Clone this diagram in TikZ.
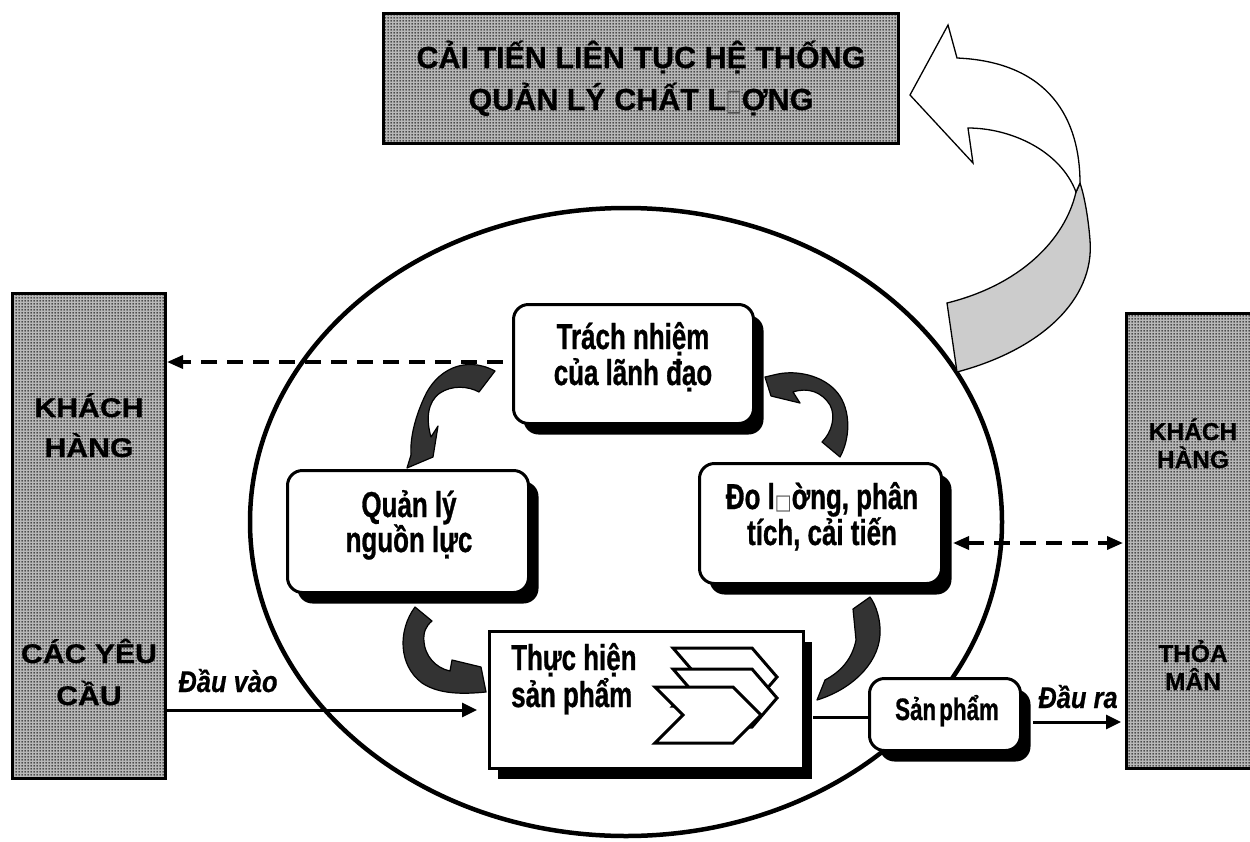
\documentclass[tikz,border=0pt]{standalone}
\usepackage{fontspec}
\setmainfont{Liberation Sans}
\newfontfamily\titlefont{Liberation Sans}[BoldFeatures={FakeBold=0.6}]
\newfontfamily\widefont{Liberation Sans}[FakeStretch=1.12, BoldFeatures={FakeBold=0.6}]
\newfontfamily\narrowfont{Liberation Sans}[FakeStretch=0.72, BoldFeatures={FakeBold=0.8}]
\newfontfamily\labelfont{Liberation Sans}[FakeStretch=0.85, BoldItalicFeatures={FakeBold=0.6}]
\newfontfamily\glyphfont{DejaVu Sans}[FakeStretch=0.85]
\newfontfamily\tallglyph{DejaVu Sans}[FakeStretch=0.55]
\usetikzlibrary{arrows.meta,patterns,shadows,calc,shapes.geometric}

% dotted screen used on the customer and improvement panels
\pgfdeclarepatternformonly{stipple}{\pgfpointorigin}{\pgfpoint{3pt}{3pt}}{\pgfpoint{3pt}{3pt}}{%
  \pgfpathcircle{\pgfpoint{1.5pt}{1.5pt}}{1.1pt}\pgfusepath{fill}}

\begin{document}
\begin{tikzpicture}[x=1pt,y=-1pt,
  panel/.style={draw=black, line width=3pt, fill=black!28, inner sep=0pt,
    postaction={pattern=stipple, pattern color=black!85},
    postaction={draw=black, line width=3pt}},
  procbox/.style={draw=black, line width=3pt, fill=white, rounded corners=15pt, inner sep=0pt,
    drop shadow={shadow xshift=10pt, shadow yshift=-11pt, opacity=1, fill=black}},
  workbox/.style={draw=black, line width=3pt, fill=white, inner sep=0pt,
    drop shadow={shadow xshift=8pt, shadow yshift=-10pt, opacity=1, fill=black}},
  loop/.style={ellipse, draw=black, line width=4.5pt, inner sep=0pt},
  titletxt/.style={inner sep=0pt, anchor=base, font=\titlefont\bfseries\fontsize{30.5}{30}\selectfont},
  sidetxt/.style={inner sep=0pt, anchor=base, font=\widefont\bfseries\fontsize{27}{27}\selectfont},
  sidetxtR/.style={inner sep=0pt, anchor=base, font=\titlefont\bfseries\fontsize{24.5}{24}\selectfont},
  boxtxt/.style={inner sep=0pt, anchor=base, font=\narrowfont\bfseries\fontsize{36}{36}\selectfont},
  prodtxt/.style={inner sep=0pt, anchor=base, font=\narrowfont\bfseries\fontsize{31}{31}\selectfont},
  flowtxt/.style={inner sep=0pt, anchor=base, font=\labelfont\bfseries\itshape\fontsize{30}{30}\selectfont},
  dashlink/.style={line width=3.5pt, dash pattern=on 16pt off 10pt},
  flowline/.style={line width=3pt},
  tipA/.tip={Triangle[length=16pt,width=13pt]},
  curl/.style={fill=black!80, draw=black, line width=1.2pt, line join=round},
  ribbon/.style={draw=black, line width=1.3pt, line join=miter},
  chev/.style={draw=black, line width=3pt, fill=white, line join=miter}
]
\useasboundingbox (0,0) rectangle (1250,841);
\clip (0,0) rectangle (1250,841);

% ---------- panels ----------
\node[panel, minimum width=515pt, minimum height=130pt] (goal) at (641,78.5) {};
\node[titletxt] (goal1) at (641,68) {CẢI TIẾN LIÊN TỤC HỆ THỐNG};
\node[titletxt] (goal2) at (641,110) {QUẢN LÝ CHẤT L{\tallglyph\fontsize{30}{30}\selectfont\color{black!65}□}ỢNG};

\node[panel, minimum width=153pt, minimum height=485pt] (custL) at (89,536) {};
\node[sidetxt] (custL1) at (89,417) {KHÁCH};
\node[sidetxt] (custL2) at (89,457) {HÀNG};
\node[sidetxt] (custL3) at (89,663) {CÁC YÊU};
\node[sidetxt] (custL4) at (89,705) {CẦU};

\node[panel, minimum width=140pt, minimum height=455pt] (custR) at (1196.5,541) {};
\node[sidetxtR] (custR1) at (1193,440) {KHÁCH};
\node[sidetxtR] (custR2) at (1193,468) {HÀNG};
\node[sidetxtR] (custR3) at (1193,662) {THỎA};
\node[sidetxtR] (custR4) at (1193,690) {MÂN};

% ---------- system boundary ----------
\node[loop, minimum width=752pt, minimum height=628pt] (system) at (626,522) {};

% ---------- twisted improvement arrow ----------
\path[ribbon, fill=black!20]
  (1076,192) .. controls (1065,240) and (1020,285) .. (947,303)
  -- (957,372) .. controls (1040,350) and (1095,300) .. (1090,240)
  .. controls (1088,215) and (1084,195) .. (1080,183) -- cycle;
\path[ribbon, fill=white]
  (1080,183) .. controls (1080,120) and (1050,62) .. (957,58)
  -- (948,25) -- (910,95) -- (973,163) -- (968,128)
  .. controls (1010,128) and (1060,150) .. (1076,192) -- cycle;

% ---------- process boxes ----------
\node[procbox, minimum width=240pt, minimum height=119pt] (trach) at (633.5,364) {};
\node[boxtxt] (trach1) at (633,349) {Trách nhiệm};
\node[boxtxt] (trach2) at (633,385) {của lãnh đạo};

\node[procbox, minimum width=241pt, minimum height=122pt] (quanly) at (408,531.5) {};
\node[boxtxt] (quanly1) at (409,517) {Quản lý};
\node[boxtxt] (quanly2) at (409,552) {nguồn lực};

\node[procbox, minimum width=242pt, minimum height=120pt] (doluong) at (820.5,523.5) {};
\node[boxtxt] (doluong1) at (822,509) {Đo l{\glyphfont\fontsize{21}{21}\selectfont\color{black!65}□}ờng, phân};
\node[boxtxt] (doluong2) at (822,545) {tích, cải tiến};

\node[workbox, minimum width=314pt, minimum height=137pt] (thuchien) at (646.5,700) {};
\node[boxtxt, anchor=base west] (thuchien1) at (511,670) {Thực hiện};
\node[boxtxt, anchor=base west] (thuchien2) at (511,707) {sản phẩm};

% stacked chevrons inside the realisation box
\path[chev] (673,648) -- (752,648) -- (777,677) -- (752,706) -- (673,706) -- (698,677) -- cycle;
\path[chev] (673,669) -- (752,669) -- (777,698) -- (752,727) -- (673,727) -- (698,698) -- cycle;
\path[chev] (655,687) -- (733,687) -- (761,715) -- (733,743) -- (655,743) -- (683,715) -- cycle;

\node[procbox, minimum width=151pt, minimum height=72pt] (sanpham) at (945,714.5) {};
\node[prodtxt] (sanpham1) at (947,720) {Sản\hspace{-3pt} phẩm};

% ---------- connectors ----------
\coordinate (toL) at ($(trach.west)+(-9,-2)$);
\draw[dashlink, -tipA] (toL) -- (toL -| custL.east);

\coordinate (toR) at ($(doluong.east)+(10,19.5)$);
\draw[dashlink, tipA-tipA] (toR) -- ($(toR -| custR.west)+(-2,0)$);

\coordinate (inp) at ($(thuchien.west)+(0,10)$);
\draw[flowline, -{Triangle[length=15pt,width=14pt]}] (inp -| custL.east) -- ($(inp)+(-11,0)$);
\node[flowtxt] (inlabel) at (228,692) {Đầu vào};

\coordinate (prod) at ($(thuchien.east)+(8,17)$);
\draw[flowline] (prod) -- (prod -| sanpham.west);

\coordinate (outp) at ($(sanpham.east)+(11,7.5)$);
\draw[flowline, -{Triangle[length=15pt,width=14pt]}] (outp) -- ($(outp -| custR.west)+(-4,0)$);
\node[flowtxt] (outlabel) at (1078,708) {Đầu ra};

% ---------- cycle arrows ----------
% leadership -> resources
\path[curl] (495,371) .. controls (465,355) and (436,370) .. (424,398)
  .. controls (414,420) and (410,440) .. (411,455) -- (407,468) -- (433,457) -- (438,426) -- (431,437)
  .. controls (426,420) and (427,402) .. (440,393)
  .. controls (452,385) and (468,386) .. (479,392) -- cycle;
% measurement -> leadership
\path[curl] (840,457) .. controls (852,435) and (850,405) .. (835,390)
  .. controls (822,376) and (798,370) .. (778,374) -- (765,377) -- (771,396) -- (800,403) -- (793,392)
  .. controls (808,387) and (822,392) .. (830,405)
  .. controls (836,416) and (832,432) .. (822,442) -- cycle;
% resources -> realisation
\path[curl] (415,607) .. controls (398,630) and (398,665) .. (422,683)
  .. controls (440,695) and (465,694) .. (486,692) -- (481,667) -- (452,660) -- (450,671)
  .. controls (435,668) and (425,655) .. (424,642)
  .. controls (423,632) and (426,626) .. (432,621) -- cycle;
% realisation -> measurement
\path[curl] (817,700) .. controls (850,690) and (878,665) .. (880,635)
  .. controls (881,620) and (876,605) .. (870,597) -- (853,609) -- (856,640)
  .. controls (852,660) and (840,672) .. (825,680) -- cycle;
\end{tikzpicture}
\end{document}
